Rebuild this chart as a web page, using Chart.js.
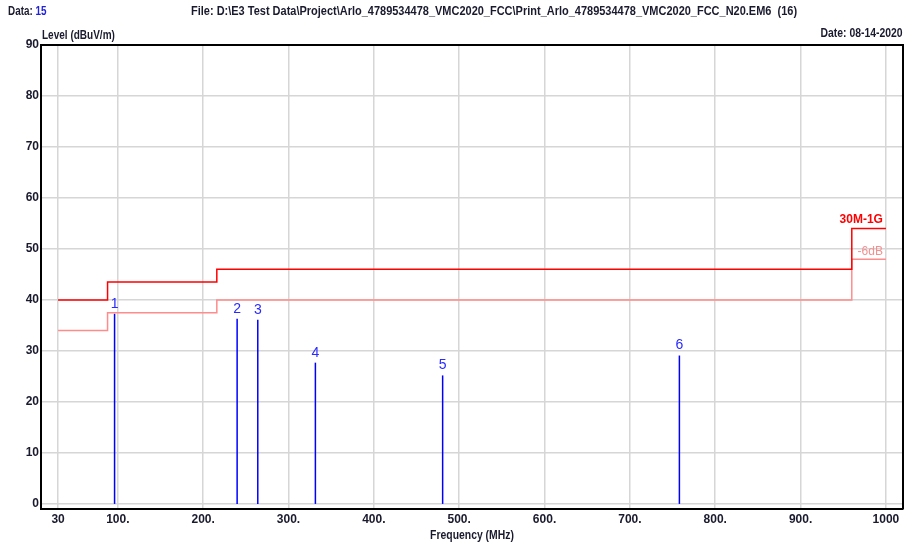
<!DOCTYPE html>
<html><head><meta charset="utf-8">
<script src="https://cdn.jsdelivr.net/npm/chart.js@4/dist/chart.umd.min.js"></script>
<style>
html,body{margin:0;padding:0;background:#fff;}
#wrap{position:relative;width:906px;height:546px;overflow:hidden;}
canvas{position:absolute;left:0;top:0;}
.t{position:absolute;font-family:"Liberation Sans Narrow","Liberation Sans",Arial,sans-serif;font-weight:bold;font-size:13px;color:#1a1a2e;white-space:nowrap;line-height:1;}
</style></head><body>
<div id="wrap">
<canvas id="c" width="906" height="546"></canvas>
<div class="t" style="left:8px;top:4px;transform:scaleX(0.76);transform-origin:0 0">Data: <span style="color:#2020e0">15</span></div>
<div class="t" style="left:191px;top:4px;transform:scaleX(0.845);transform-origin:0 0">File: D:\E3 Test Data\Project\Arlo_4789534478_VMC2020_FCC\Print_Arlo_4789534478_VMC2020_FCC_N20.EM6&nbsp; (16)</div>
<div class="t" style="left:42px;top:28px;transform:scaleX(0.77);transform-origin:0 0">Level (dBuV/m)</div>
<div class="t" style="right:3px;top:26px;transform:scaleX(0.8);transform-origin:100% 0">Date: 08-14-2020</div>
<div class="t" style="left:472px;top:528px;transform:translateX(-50%) scaleX(0.8);">Frequency (MHz)</div>
</div>
<script>
// ---- data ----
const xTicks = [30, 100, 200, 300, 400, 500, 600, 700, 800, 900, 1000];
const xTickLabels = ["30", "100.", "200.", "300.", "400.", "500.", "600.", "700.", "800.", "900.", "1000"];
const yTicks = [0, 10, 20, 30, 40, 50, 60, 70, 80, 90];

const limitFreqs = [30, 88, 216, 960, 1000];
const limitLevels = [40, 43.5, 46, 54];        // 30M-1G
const marginLevels = [34, 37.5, 40, 48];       // -6dB

const markerNums = ["1", "2", "3", "4", "5", "6"];
const markerFreqs = [96.2, 239.8, 264.0, 331.5, 480.6, 758.0];
const markerLevels = [37.3, 36.3, 36.1, 27.7, 25.2, 29.1];

// ---- build ----
function stepData(freqs, levels) {
  const d = levels.map((v, i) => ({x: freqs[i], y: v}));
  d.push({x: freqs[freqs.length - 1], y: levels[levels.length - 1]});
  return d;
}
const FONT = '"Liberation Sans Narrow","Liberation Sans",Arial,sans-serif';
const datasets = [
  {label: '30M-1G', data: stepData(limitFreqs, limitLevels), stepped: 'before', borderColor: '#ff0000', borderWidth: 1.5, pointRadius: 0, labelColor: '#ff0000', labelBold: true, labelOffset: 9},
  {label: '-6dB', data: stepData(limitFreqs, marginLevels), stepped: 'before', borderColor: '#ff8c8c', borderWidth: 1.5, pointRadius: 0, labelColor: '#f29090', labelBold: false, labelOffset: 7}
];
markerFreqs.forEach((f, i) => {
  datasets.push({label: 'm' + markerNums[i], data: [{x: f, y: 0}, {x: f, y: markerLevels[i]}], borderColor: '#0000ff', borderWidth: 1.5, pointRadius: 0, marker: markerNums[i]});
});

const labelPlugin = {
  id: 'labels',
  afterDatasetsDraw(chart) {
    const ctx = chart.ctx, xs = chart.scales.x, ys = chart.scales.y, a = chart.chartArea;
    ctx.save();
    ctx.strokeStyle = '#000'; ctx.lineWidth = 2;
    ctx.beginPath();
    ctx.moveTo(a.left, a.top); ctx.lineTo(a.right, a.top); ctx.lineTo(a.right, a.bottom);
    ctx.stroke();
    ctx.textBaseline = 'middle';
    chart.data.datasets.forEach(ds => {
      if (ds.marker) {
        const p = ds.data[1];
        ctx.fillStyle = '#2a2aff';
        ctx.font = '14px ' + FONT;
        ctx.textAlign = 'center';
        ctx.fillText(ds.marker, xs.getPixelForValue(p.x), ys.getPixelForValue(p.y) - 10);
      } else {
        const p = ds.data[ds.data.length - 1];
        ctx.fillStyle = ds.labelColor;
        ctx.font = (ds.labelBold ? 'bold ' : '') + '12px ' + FONT;
        ctx.textAlign = 'right';
        ctx.fillText(ds.label, xs.getPixelForValue(p.x) - 3, ys.getPixelForValue(p.y) - ds.labelOffset);
      }
    });
    ctx.restore();
  }
};

new Chart(document.getElementById('c'), {
  type: 'line',
  data: {datasets},
  options: {
    responsive: false, animation: false, devicePixelRatio: 1,
    layout: {padding: {top: 45, right: 3, left: 0, bottom: 0}},
    plugins: {legend: {display: false}, tooltip: {enabled: false}},
    scales: {
      x: {
        type: 'linear', min: 10, max: 1020,
        afterBuildTicks: s => { s.ticks = xTicks.map(v => ({value: v})); },
        afterFit: s => { s.height = 37; },
        ticks: {
          autoSkip: false, maxRotation: 0, padding: 3, color: '#1a1a2e',
          font: {family: FONT, weight: 'bold', size: 12},
          callback: (v) => { const i = xTicks.indexOf(v); return i >= 0 ? xTickLabels[i] : ''; }
        },
        grid: {color: '#d6d6d6', lineWidth: 1.5, drawTicks: false},
        border: {color: '#000', width: 2}
      },
      y: {
        min: -1, max: 90,
        afterBuildTicks: s => { s.ticks = yTicks.map(v => ({value: v})); },
        afterFit: s => { s.width = 41; },
        ticks: {padding: 2, color: '#1a1a2e', font: {family: FONT, weight: 'bold', size: 12}},
        grid: {color: '#d6d6d6', lineWidth: 1.5, drawTicks: false},
        border: {color: '#000', width: 2}
      }
    }
  },
  plugins: [labelPlugin]
});
</script>
</body></html>
